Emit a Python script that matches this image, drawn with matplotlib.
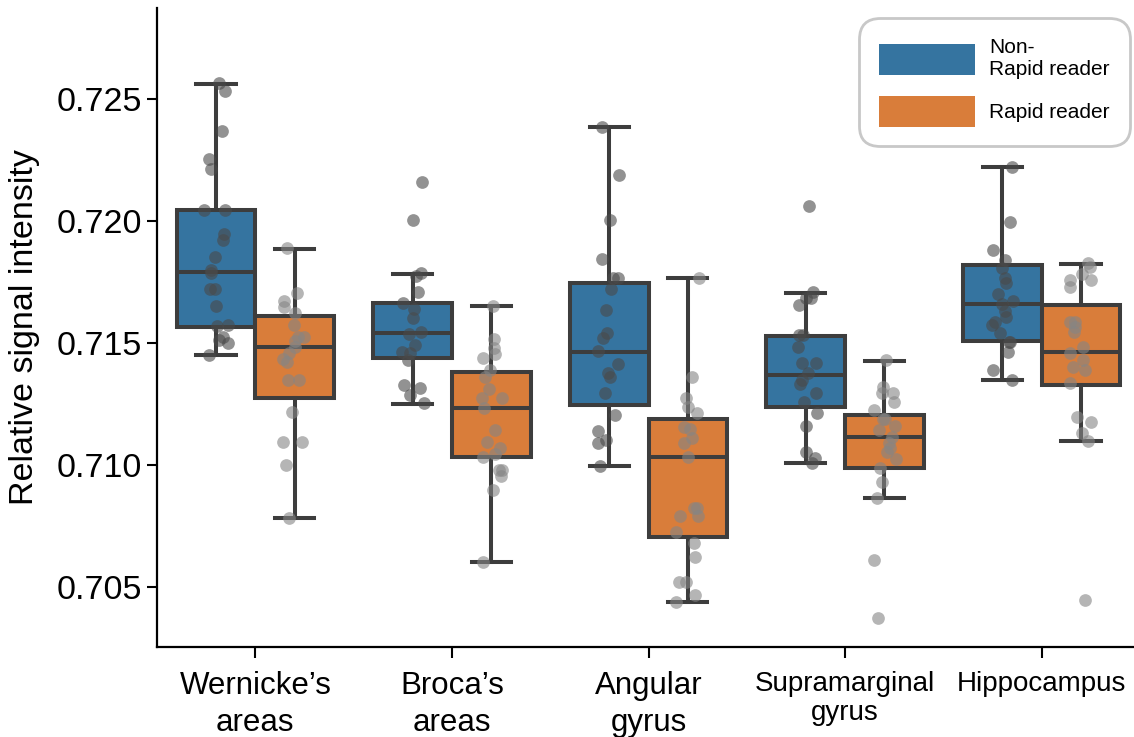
import numpy as np
import matplotlib
matplotlib.use("Agg")
import matplotlib.pyplot as plt
from matplotlib.patches import Patch

# Regions and groups
regions = ["Wernicke\u2019s\nareas", "Broca\u2019s\nareas", "Angular\ngyrus",
           "Supramarginal\ngyrus", "Hippocampus"]
groups = ["Non-\nRapid reader", "Rapid reader"]

# Box statistics (per region)
non_whislo = [0.71451, 0.71250, 0.70996, 0.71008, 0.71348]
non_q1 = [0.71566, 0.71439, 0.71246, 0.71238, 0.71508]
non_med = [0.71791, 0.71541, 0.71463, 0.71369, 0.71660]
non_q3 = [0.72045, 0.71664, 0.71746, 0.71529, 0.71820]
non_whishi = [0.72561, 0.71783, 0.72385, 0.71705, 0.72221]

rap_whislo = [0.70783, 0.70603, 0.70439, 0.70865, 0.71098]
rap_q1 = [0.71275, 0.71033, 0.70705, 0.70988, 0.71328]
rap_med = [0.71484, 0.71234, 0.71033, 0.71115, 0.71463]
rap_q3 = [0.71611, 0.71381, 0.71189, 0.71205, 0.71656]
rap_whishi = [0.71885, 0.71652, 0.71766, 0.71426, 0.71824]

# Individual subjects
non_points = [
    [0.72566, 0.72533, 0.72369, 0.72254, 0.72213, 0.72045, 0.72045, 0.71947,
     0.71922, 0.71852, 0.71800, 0.71787, 0.71721, 0.71721, 0.71652, 0.71570,
     0.71574, 0.71525, 0.71512, 0.71500, 0.71451],
    [0.72160, 0.72004, 0.71787, 0.71775, 0.71709, 0.71664, 0.71640, 0.71602,
     0.71545, 0.71537, 0.71492, 0.71463, 0.71459, 0.71430, 0.71328, 0.71316,
     0.71287, 0.71254],
    [0.72385, 0.72189, 0.72004, 0.71844, 0.71766, 0.71766, 0.71721, 0.71635,
     0.71541, 0.71520, 0.71467, 0.71414, 0.71377, 0.71361, 0.71295, 0.71205,
     0.71139, 0.71102, 0.71090, 0.70996],
    [0.72061, 0.71709, 0.71684, 0.71684, 0.71656, 0.71533, 0.71533, 0.71484,
     0.71418, 0.71418, 0.71377, 0.71348, 0.71332, 0.71295, 0.71258, 0.71213,
     0.71160, 0.71053, 0.71029, 0.71008],
    [0.72221, 0.71996, 0.71881, 0.71840, 0.71807, 0.71766, 0.71746, 0.71700,
     0.71672, 0.71660, 0.71630, 0.71607, 0.71586, 0.71574, 0.71541, 0.71504,
     0.71504, 0.71463, 0.71390, 0.71348],
]
rap_points = [
    [0.71889, 0.71705, 0.71672, 0.71648, 0.71623, 0.71574, 0.71525, 0.71525,
     0.71510, 0.71484, 0.71460, 0.71434, 0.71422, 0.71348, 0.71348, 0.71217,
     0.71094, 0.71094, 0.71000, 0.70783],
    [0.71652, 0.71516, 0.71480, 0.71455, 0.71439, 0.71390, 0.71361, 0.71311,
     0.71275, 0.71275, 0.71234, 0.71143, 0.71094, 0.71070, 0.71045, 0.71033,
     0.70980, 0.70980, 0.70955, 0.70898, 0.70603],
    [0.71766, 0.71361, 0.71275, 0.71238, 0.71213, 0.71156, 0.71148, 0.71110,
     0.71090, 0.71033, 0.70824, 0.70824, 0.70791, 0.70791, 0.70725, 0.70680,
     0.70623, 0.70520, 0.70520, 0.70467, 0.70439],
    [0.71430, 0.71320, 0.71295, 0.71295, 0.71258, 0.71225, 0.71189, 0.71189,
     0.71160, 0.71143, 0.71115, 0.71090, 0.71070, 0.71053, 0.71025, 0.70988,
     0.70930, 0.70865, 0.70611, 0.70373],
    [0.71828, 0.71811, 0.71783, 0.71758, 0.71758, 0.71730, 0.71586, 0.71586,
     0.71566, 0.71545, 0.71484, 0.71459, 0.71430, 0.71402, 0.71390, 0.71336,
     0.71197, 0.71176, 0.71131, 0.71098, 0.70447],
]

blue = "#3574a0"
orange = "#d97d3a"
line_c = "#3d3d3d"

plt.rcParams["font.family"] = ["Liberation Sans", "DejaVu Sans"]

fig = plt.figure(figsize=(11.34, 7.37), dpi=100)
ax = fig.add_axes([157 / 1134, 90 / 737, 983 / 1134, 639 / 737])

x = np.arange(len(regions))


def make_stats(lo, q1, med, q3, hi):
    return [dict(whislo=a, q1=b, med=c, q3=d, whishi=e, fliers=[])
            for a, b, c, d, e in zip(lo, q1, med, q3, hi)]


lw = 2.9
props = dict(
    widths=0.4, patch_artist=True, showfliers=False,
    medianprops=dict(color=line_c, linewidth=lw),
    whiskerprops=dict(color=line_c, linewidth=lw),
    capprops=dict(color=line_c, linewidth=lw),
)
ax.bxp(make_stats(non_whislo, non_q1, non_med, non_q3, non_whishi),
       positions=x - 0.2,
       boxprops=dict(facecolor=blue, edgecolor=line_c, linewidth=lw), **props)
ax.bxp(make_stats(rap_whislo, rap_q1, rap_med, rap_q3, rap_whishi),
       positions=x + 0.2,
       boxprops=dict(facecolor=orange, edgecolor=line_c, linewidth=lw), **props)

# strip points with a fixed jitter
rng = np.random.default_rng(7)
for i in range(len(regions)):
    yv = np.array(non_points[i])
    ax.scatter(i - 0.2 + rng.uniform(-0.06, 0.06, len(yv)), yv,
               s=84, color="#4a4a4a", alpha=0.6, linewidths=0, zorder=5)
    yv = np.array(rap_points[i])
    ax.scatter(i + 0.2 + rng.uniform(-0.06, 0.06, len(yv)), yv,
               s=84, color="#858585", alpha=0.6, linewidths=0, zorder=5)

ax.set_xlim(-0.5, 4.5)
ax.set_ylim(0.70254, 0.72873)
ax.set_yticks([0.705, 0.710, 0.715, 0.720, 0.725])
ax.set_yticklabels(["0.705", "0.710", "0.715", "0.720", "0.725"])
ax.set_xticks(x)
ax.set_xticklabels(regions, fontsize=22.5, linespacing=1.3)
for lab in ax.get_xticklabels()[3:]:
    lab.set_fontsize(20)
    lab.set_linespacing(1.15)
ax.tick_params(axis="y", labelsize=24.5, length=7, width=1.5)
ax.tick_params(axis="x", length=8, width=1.5, pad=9)
ax.set_ylabel("Relative signal intensity", fontsize=24.5, labelpad=12)

for side in ["top", "right"]:
    ax.spines[side].set_visible(False)
for side in ["left", "bottom"]:
    ax.spines[side].set_linewidth(1.6)

handles = [Patch(facecolor=blue, edgecolor="none"),
           Patch(facecolor=orange, edgecolor="none")]
leg = ax.legend(handles, groups, loc="upper right", fontsize=15,
                handlelength=4.6, handleheight=1.9, labelspacing=0.8,
                borderpad=0.95, handletextpad=0.7, fancybox=True,
                framealpha=1, edgecolor="#c8c8c8")
leg.get_frame().set_linewidth(2)
leg.get_frame().set_boxstyle("round,pad=0,rounding_size=1.0")

fig.savefig("out.png", dpi=100)
